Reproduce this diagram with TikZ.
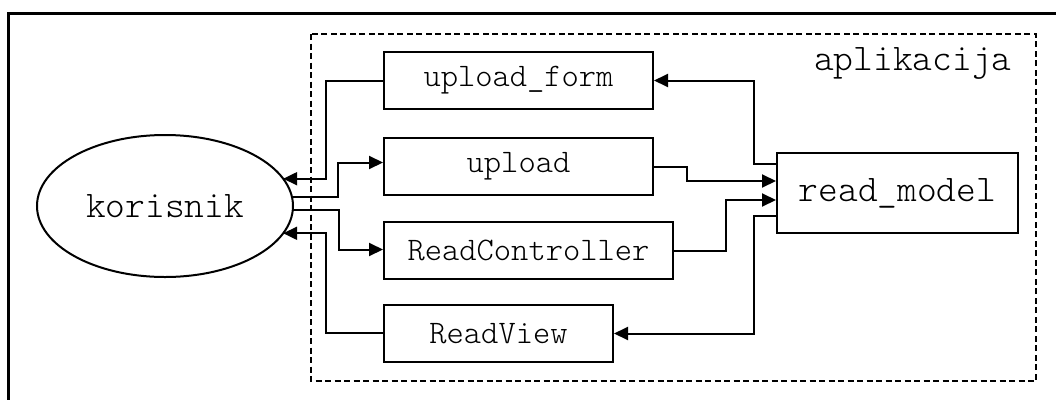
\documentclass[tikz,border=0pt]{standalone}
\usepackage{fontspec}
\setmonofont{Latin Modern Mono Light}
\usetikzlibrary{arrows.meta,shapes.geometric}
\begin{document}
\begin{tikzpicture}[x=1pt,y=-1pt,
  module/.style={draw,line width=2pt,rectangle,inner sep=0pt,minimum height=57pt,
    font=\fontsize{32.9}{36}\selectfont\ttfamily},
  flow/.style={line width=2pt,-{Triangle[length=14pt,width=13pt]}},
  bigtext/.style={font=\fontsize{37.6}{42}\selectfont\ttfamily}]
  \useasboundingbox (0,0) rectangle (1056,399);
  % outer frame edges
  \draw[line width=3pt] (8,400) -- (8,13) -- (1057,13);
  % application boundary
  \draw[line width=1.6pt,dash pattern=on 6pt off 3.5pt] (311,34) rectangle (1036,381);
  \node[bigtext,anchor=base west,inner sep=0pt] (app) at (814,70) {aplikacija};

  % user
  \node[draw,ellipse,line width=2pt,inner sep=0pt,outer sep=0pt,
        minimum width=256pt,minimum height=142pt,bigtext] (kor) at (165,206) {korisnik};

  % modules
  \node[module,minimum width=269pt] (uf) at (518.5,80.5) {upload\_form};
  \node[module,minimum width=269pt] (up) at (518.5,166.5) {upload};
  \node[module,minimum width=289pt] (rc) at (528.5,250.5) {ReadController};
  \node[module,minimum width=229pt] (rv) at (498.5,333.5) {ReadView};
  \node[draw,line width=2pt,inner sep=0pt,minimum width=241pt,minimum height=80pt,
        bigtext] (rm) at (897.5,193) {read\_model};

  % user <-> modules
  \draw[flow] (uf.west) -- ++(-57,0) |- (kor.13.4);
  \draw[flow] (kor.4) -- ++(46,0) |- ([yshift=4pt]up.west);
  \draw[flow] (kor.-2.2) -- ++(46,0) |- ([yshift=1pt]rc.west);
  \draw[flow] ([yshift=1pt]rv.west) -- ++(-57,0) |- (kor.-13.4);

  % modules <-> model
  \draw[flow] ([yshift=29pt]rm.west) -- ++(-22,0) |- (uf.east);
  \draw[flow] (up.east) -- ++(33,0) |- ([yshift=12pt]rm.west);
  \draw[flow] (rc.east) -- ++(52,0) |- ([yshift=-7pt]rm.west);
  \draw[flow] ([yshift=-23pt]rm.west) -- ++(-22,0) |- (rv.east);
\end{tikzpicture}
\end{document}
